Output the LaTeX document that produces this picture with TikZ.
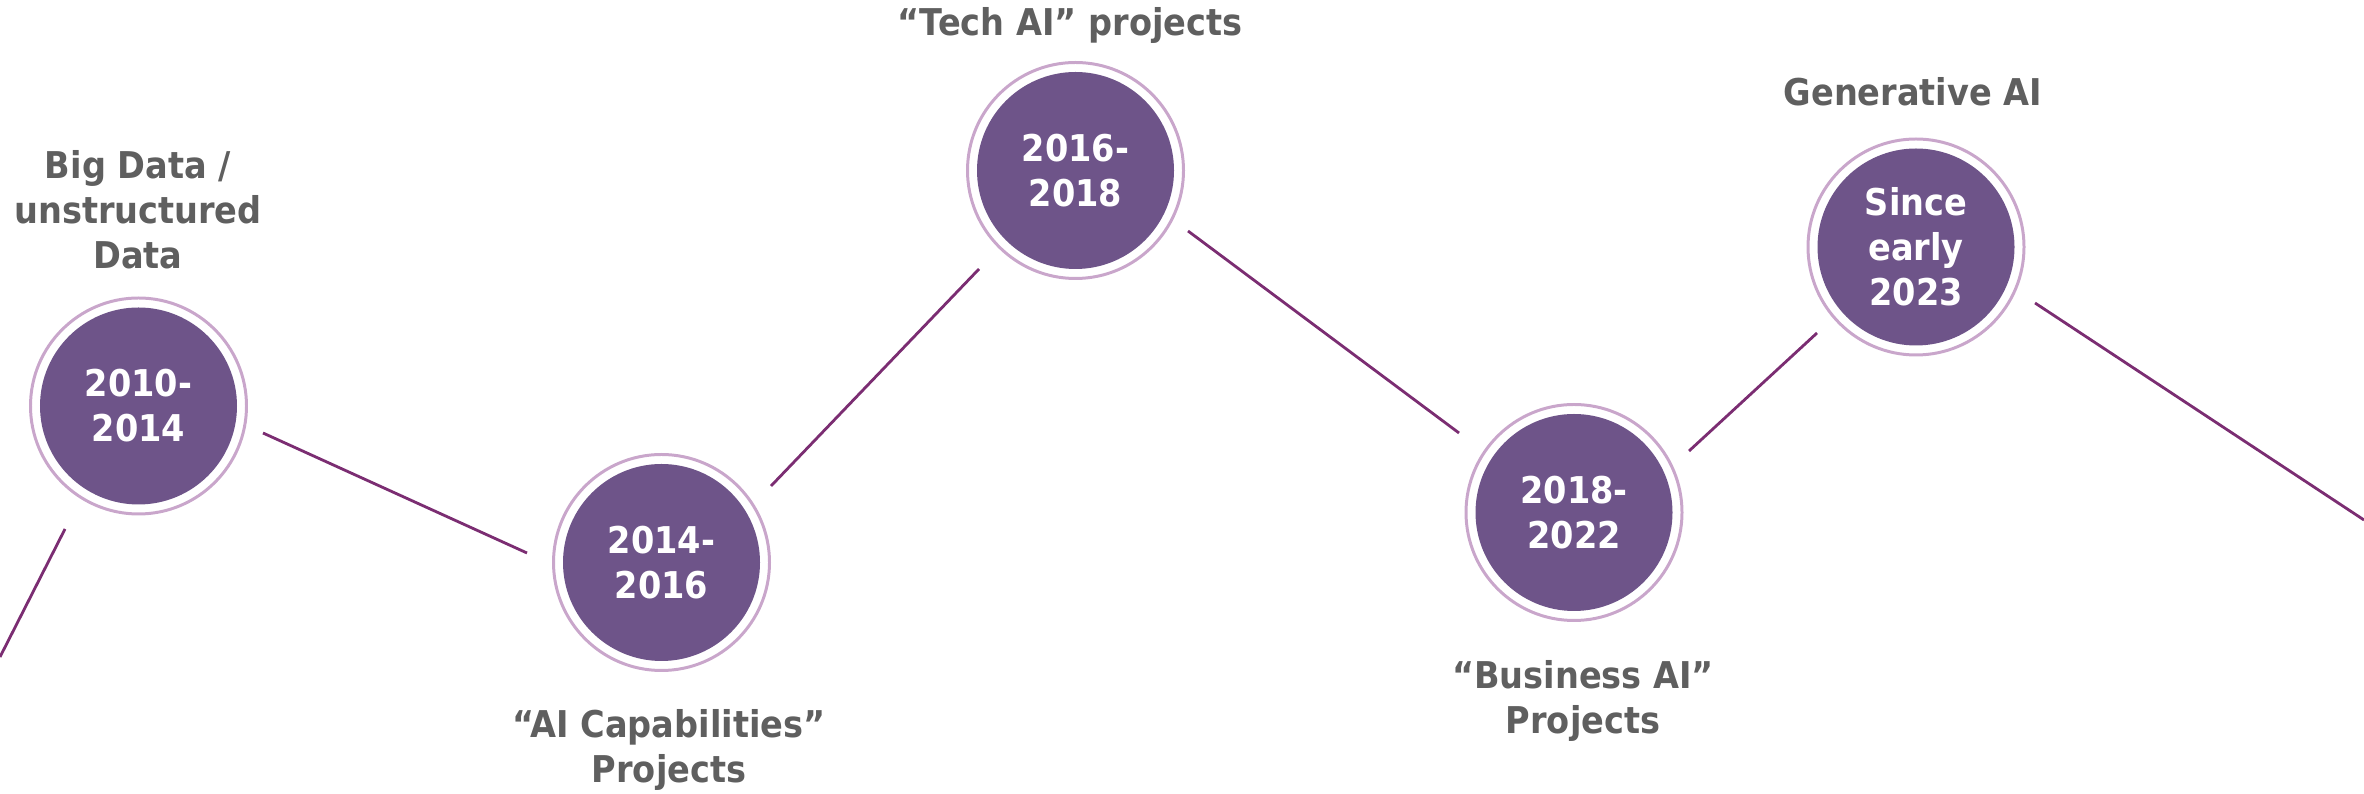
\documentclass[tikz,border=0pt]{standalone}
\usepackage{fontspec}
\setmainfont{DejaVu Sans}[FakeStretch=0.91]
\definecolor{periodfill}{RGB}{110,84,137}
\definecolor{haloline}{RGB}{201,166,203}
\definecolor{linkline}{RGB}{123,45,114}
\definecolor{labelgray}{RGB}{95,95,95}
\tikzset{
  period/.style={circle, fill=periodfill, text=white, minimum size=1.97cm, inner sep=0pt, align=center, font=\fontsize{10.5}{12.8}\selectfont\bfseries},
  halo/.style={draw=haloline, line width=0.85pt},
  link/.style={draw=linkline, line width=0.8pt},
  caption/.style={text=labelgray, inner sep=0pt, align=center, font=\fontsize{10.5}{12.8}\selectfont\bfseries}
}
\begin{document}
\begin{tikzpicture}
                    \useasboundingbox (0,0) rectangle (23.64,7.94);

                    % Périodes
                    \node[period] (p1) at (1.385,3.88) {2010-\\2014};
                    \node[period] (p2) at (6.615,2.315) {2014-\\2016};
                    \node[period] (p3) at (10.755,6.235) {2016-\\2018};
                    \node[period] (p4) at (15.74,2.815) {2018-\\2022};
                    \node[period] (p5) at (19.16,5.47) {Since\\early\\2023};
                    \draw[halo] (p1) circle (1.08cm);
                    \draw[halo] (p2) circle (1.08cm);
                    \draw[halo] (p3) circle (1.08cm);
                    \draw[halo] (p4) circle (1.08cm);
                    \draw[halo] (p5) circle (1.08cm);

                    % Légendes
                    \node[caption] (bigdata) at (1.38,5.84) {Big Data /\\unstructured\\Data};
                    \node[caption] (capab) at (6.69,0.445) {``AI Capabilities''\\Projects};
                    \node[caption] (techai) at (10.70,7.69) {``Tech AI'' projects};
                    \node[caption] (business) at (15.83,0.935) {``Business AI''\\Projects};
                    \node[caption] (genai) at (19.13,7.025) {Generative AI};

                    % Traits
                    \coordinate (s0) at (0,1.37);      \coordinate (e0) at (0.65,2.65);
                    \coordinate (s1) at (2.63,3.61);   \coordinate (e1) at (5.27,2.41);
                    \coordinate (s2) at (7.71,3.08);   \coordinate (e2) at (9.79,5.25);
                    \coordinate (s3) at (11.88,5.63);  \coordinate (e3) at (14.59,3.61);
                    \coordinate (s4) at (16.89,3.43);  \coordinate (e4) at (18.17,4.61);
                    \coordinate (s5) at (20.35,4.91);  \coordinate (e5) at (23.64,2.74);
                    \draw[link] (s0) -- (e0);
                    \draw[link] (s1) -- (e1);
                    \draw[link] (s2) -- (e2);
                    \draw[link] (s3) -- (e3);
                    \draw[link] (s4) -- (e4);
                    \draw[link] (s5) -- (e5);
                \end{tikzpicture}
\end{document}
